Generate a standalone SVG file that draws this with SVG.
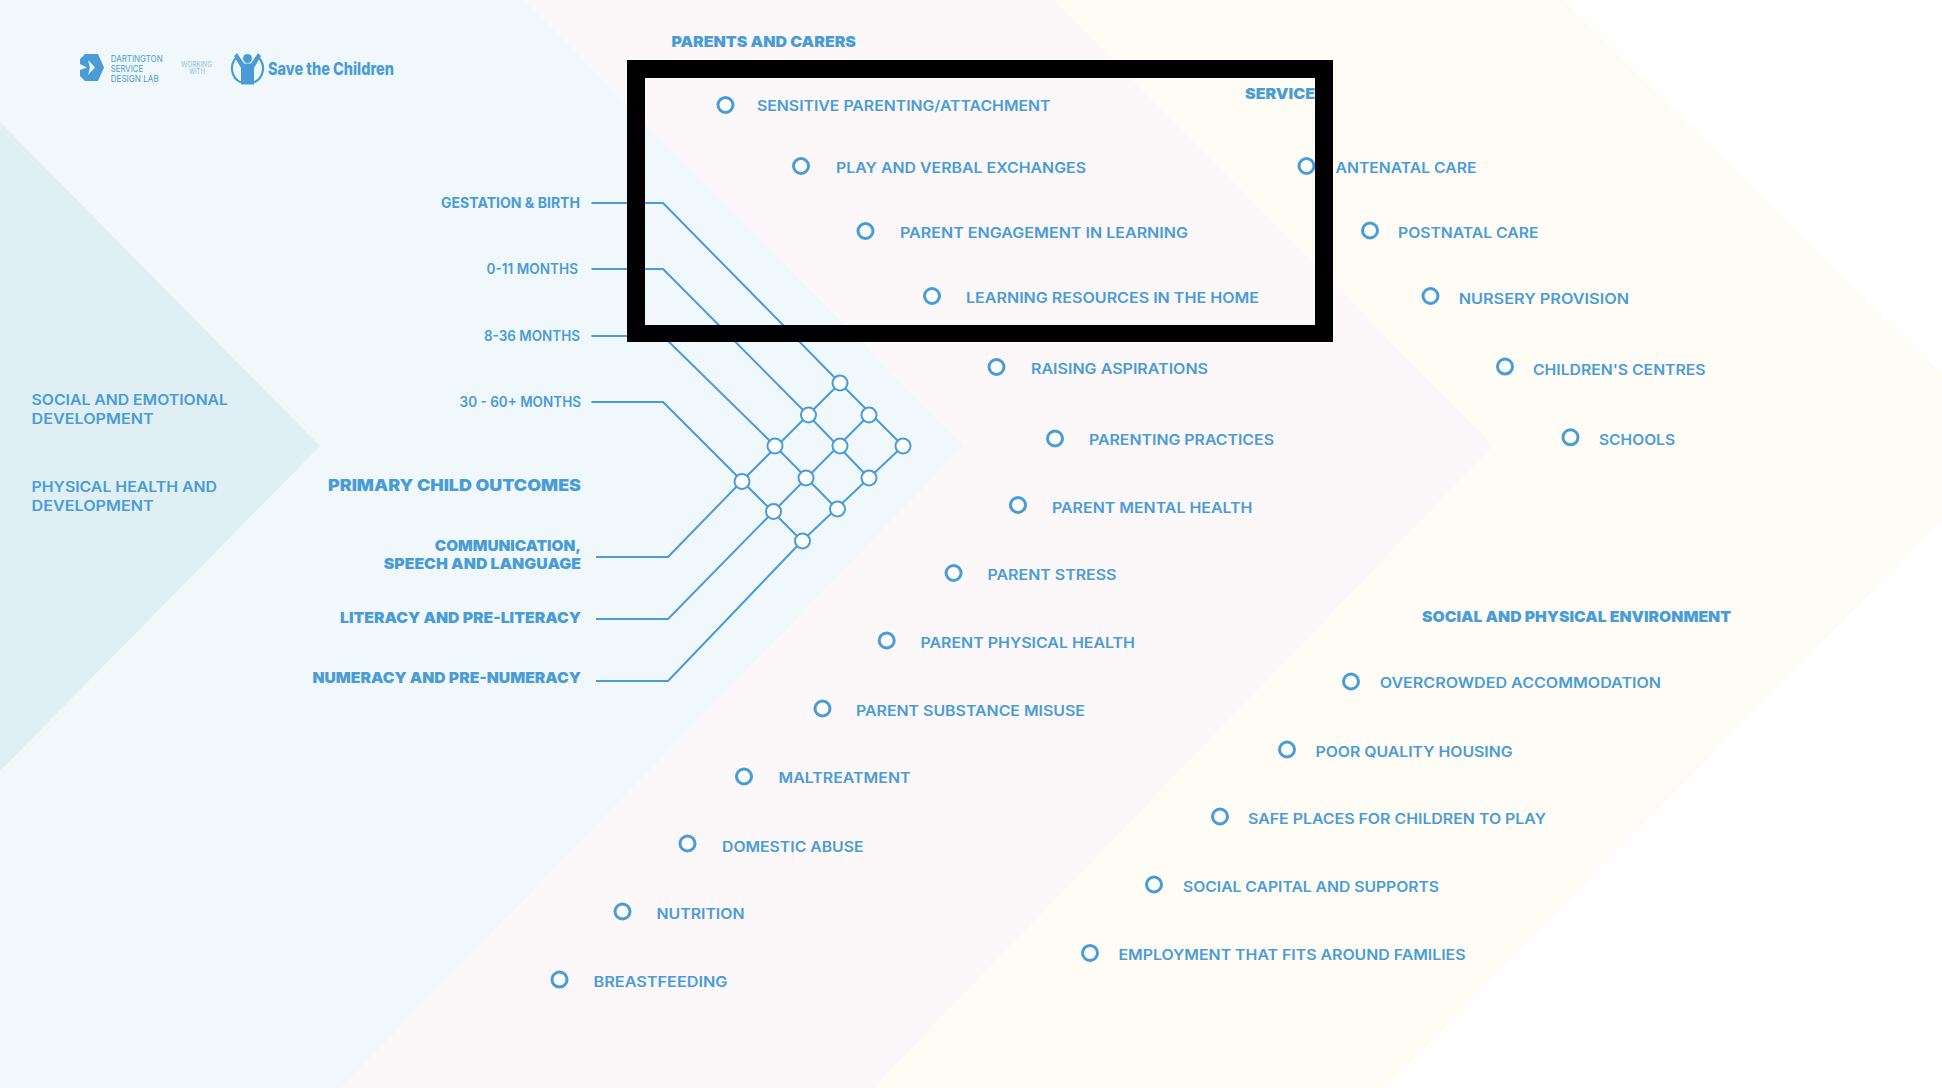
<svg xmlns="http://www.w3.org/2000/svg" width="1942" height="1088" viewBox="0 0 1942 1088">
<style>
text{font-family:Inter,"Liberation Sans",sans-serif;fill:#4a9cd6;font-size:14px;font-weight:600;dominant-baseline:central}
.h{font-weight:900;font-size:15px}
.b{font-weight:700}
.s{font-weight:400;font-size:9.5px}
.w{font-weight:400;font-size:7.5px;fill:#8cc0e4}
.sc{font-weight:800;font-size:17px}
.dot{fill:#fff;stroke:#4a9cd6;stroke-width:3}
.n{fill:#fff;stroke:#4a9cd6;stroke-width:2}
.c{fill:none;stroke:#4a9cd6;stroke-width:2;stroke-linejoin:round}
</style>
<rect width="1942" height="1088" fill="#fff"/>
<g id="background">
<polygon points="0,0 1563,0 2015,446 1385,1088 0,1088" fill="#fffcf6"/>
<polygon points="0,0 1054,0 1493,446 873,1088 0,1088" fill="#fcf7f8"/>
<polygon points="0,0 524,0 964,446 341,1088 0,1088" fill="#f0f8fb"/>
<polygon points="0,122 320,446 0,771" fill="#e0eff4"/>
</g>
<g id="logos">
<path d="M85,54H98L104,67.500L98,81H85L80,76V70L87,67.500L80,64V59Z" fill="#4a9cd6"/>
<path d="M88,60L95,67.500L88,75L90,67.500Z" fill="#f0f8fb"/>
<text class="s" x="110.700" y="58.700" textLength="52" lengthAdjust="spacingAndGlyphs">DARTINGTON</text>
<text class="s" x="110.700" y="68.300" textLength="32.500" lengthAdjust="spacingAndGlyphs">SERVICE</text>
<text class="s" x="110.700" y="78" textLength="48" lengthAdjust="spacingAndGlyphs">DESIGN LAB</text>
<text class="w" x="181" y="64" textLength="31" lengthAdjust="spacingAndGlyphs">WORKING</text>
<text class="w" x="189" y="71.300" textLength="16" lengthAdjust="spacingAndGlyphs">WITH</text>
<path d="M237,57A15.500,15.500 0 0 0 241,82.500M258,57A15.500,15.500 0 0 1 254,82.500" fill="none" stroke="#4a9cd6" stroke-width="2.200"/>
<circle cx="247.500" cy="58.500" r="4.500" fill="#4a9cd6"/>
<path d="M234,56L237,53L244,63.500H251L258,53L261,56L254,68V84.500H241V68Z" fill="#4a9cd6"/>
<text class="sc" x="268" y="69.300" textLength="126" lengthAdjust="spacingAndGlyphs">Save the Children</text>
</g>
<g id="connectors">
<polyline class="c" points="591.500,203 663,203 840,383 903,446"/>
<polyline class="c" points="591.500,269 663,269 808,415 869,478"/>
<polyline class="c" points="591.500,336 663,336 775,446 837,509"/>
<polyline class="c" points="591.500,402 663,402 742,481 802,541"/>
<polyline class="c" points="596,557 668,557 742,481 840,383"/>
<polyline class="c" points="596,619 668,619 773,512 869,415"/>
<polyline class="c" points="596,681 668,681 802,541 903,446"/>
</g>
<g id="matrix">
<circle class="n" cx="840" cy="383" r="7.500"/><circle class="n" cx="808.500" cy="415" r="7.500"/><circle class="n" cx="869" cy="415" r="7.500"/>
<circle class="n" cx="775" cy="446" r="7.500"/><circle class="n" cx="840" cy="446" r="7.500"/><circle class="n" cx="903" cy="446" r="7.500"/>
<circle class="n" cx="742" cy="481.500" r="7.500"/><circle class="n" cx="806" cy="478" r="7.500"/><circle class="n" cx="869" cy="478" r="7.500"/>
<circle class="n" cx="773.500" cy="511.500" r="7.500"/><circle class="n" cx="837.500" cy="509" r="7.500"/><circle class="n" cx="802.500" cy="541" r="7.500"/>
</g>
<g id="left-labels">
<text x="31.600" y="399.500" textLength="196.400" lengthAdjust="spacingAndGlyphs">SOCIAL AND EMOTIONAL</text>
<text x="31.600" y="418" textLength="122" lengthAdjust="spacingAndGlyphs">DEVELOPMENT</text>
<text x="31.600" y="486" textLength="185.400" lengthAdjust="spacingAndGlyphs">PHYSICAL HEALTH AND</text>
<text x="31.600" y="505.200" textLength="122" lengthAdjust="spacingAndGlyphs">DEVELOPMENT</text>
</g>
<g id="age-labels">
<text class="b" x="441" y="202" textLength="139" lengthAdjust="spacingAndGlyphs">GESTATION &amp; BIRTH</text>
<text x="486.600" y="268.500" textLength="91.400" lengthAdjust="spacingAndGlyphs">0-11 MONTHS</text>
<text x="484" y="335.500" textLength="96" lengthAdjust="spacingAndGlyphs">8-36 MONTHS</text>
<text x="459.600" y="401.500" textLength="121.400" lengthAdjust="spacingAndGlyphs">30 - 60+ MONTHS</text>
</g>
<g id="outcome-labels">
<text class="h" style="font-size:16px" x="328" y="484.500" textLength="253" lengthAdjust="spacingAndGlyphs">PRIMARY CHILD OUTCOMES</text>
<text class="h" x="434.700" y="545.700" textLength="146.300" lengthAdjust="spacingAndGlyphs">COMMUNICATION,</text>
<text class="h" x="383.700" y="563.700" textLength="197.300" lengthAdjust="spacingAndGlyphs">SPEECH AND LANGUAGE</text>
<text class="h" x="340" y="617.700" textLength="241" lengthAdjust="spacingAndGlyphs">LITERACY AND PRE-LITERACY</text>
<text class="h" x="312.400" y="677.700" textLength="268.600" lengthAdjust="spacingAndGlyphs">NUMERACY AND PRE-NUMERACY</text>
</g>
<g id="parents-and-carers">
<text class="h" x="671.400" y="41" textLength="184.600" lengthAdjust="spacingAndGlyphs">PARENTS AND CARERS</text>
<g id="p1"><circle class="dot" cx="725.500" cy="105" r="7.500"/><text x="757" y="105.300" textLength="293.500" lengthAdjust="spacingAndGlyphs">SENSITIVE PARENTING/ATTACHMENT</text></g>
<g id="p2"><circle class="dot" cx="801" cy="166" r="7.500"/><text x="836" y="167.300" textLength="250" lengthAdjust="spacingAndGlyphs">PLAY AND VERBAL EXCHANGES</text></g>
<g id="p3"><circle class="dot" cx="865.500" cy="231" r="7.500"/><text x="900" y="232" textLength="288" lengthAdjust="spacingAndGlyphs">PARENT ENGAGEMENT IN LEARNING</text></g>
<g id="p4"><circle class="dot" cx="932" cy="296" r="7.500"/><text x="966" y="297" textLength="293" lengthAdjust="spacingAndGlyphs">LEARNING RESOURCES IN THE HOME</text></g>
<g id="p5"><circle class="dot" cx="996.500" cy="367" r="7.500"/><text x="1031" y="368.500" textLength="177" lengthAdjust="spacingAndGlyphs">RAISING ASPIRATIONS</text></g>
<g id="p6"><circle class="dot" cx="1055" cy="438.500" r="7.500"/><text x="1089" y="439.800" textLength="185" lengthAdjust="spacingAndGlyphs">PARENTING PRACTICES</text></g>
<g id="p7"><circle class="dot" cx="1018" cy="505" r="7.500"/><text x="1052" y="507" textLength="200.500" lengthAdjust="spacingAndGlyphs">PARENT MENTAL HEALTH</text></g>
<g id="p8"><circle class="dot" cx="953.600" cy="573" r="7.500"/><text x="987.500" y="574.600" textLength="129" lengthAdjust="spacingAndGlyphs">PARENT STRESS</text></g>
<g id="p9"><circle class="dot" cx="886.700" cy="640.500" r="7.500"/><text x="920.500" y="642" textLength="214.500" lengthAdjust="spacingAndGlyphs">PARENT PHYSICAL HEALTH</text></g>
<g id="p10"><circle class="dot" cx="822.500" cy="708.500" r="7.500"/><text x="856" y="710" textLength="229" lengthAdjust="spacingAndGlyphs">PARENT SUBSTANCE MISUSE</text></g>
<g id="p11"><circle class="dot" cx="744" cy="776.500" r="7.500"/><text x="778.500" y="777.700" textLength="132" lengthAdjust="spacingAndGlyphs">MALTREATMENT</text></g>
<g id="p12"><circle class="dot" cx="687.500" cy="843.500" r="7.500"/><text x="722" y="846" textLength="141.500" lengthAdjust="spacingAndGlyphs">DOMESTIC ABUSE</text></g>
<g id="p13"><circle class="dot" cx="622.500" cy="911.500" r="7.500"/><text x="656.500" y="913" textLength="88" lengthAdjust="spacingAndGlyphs">NUTRITION</text></g>
<g id="p14"><circle class="dot" cx="559.500" cy="979.600" r="7.500"/><text x="593.500" y="981" textLength="134" lengthAdjust="spacingAndGlyphs">BREASTFEEDING</text></g>
</g>
<g id="service">
<text class="h" x="1245" y="93.500" textLength="70" lengthAdjust="spacingAndGlyphs">SERVICE</text>
<g id="s1"><circle class="dot" cx="1306.500" cy="166" r="7.500"/><text x="1335.500" y="167.800" textLength="141" lengthAdjust="spacingAndGlyphs">ANTENATAL CARE</text></g>
<g id="s2"><circle class="dot" cx="1370" cy="230.500" r="7.500"/><text x="1398" y="232.300" textLength="140.500" lengthAdjust="spacingAndGlyphs">POSTNATAL CARE</text></g>
<g id="s3"><circle class="dot" cx="1430.500" cy="296" r="7.500"/><text x="1458.700" y="298" textLength="170.300" lengthAdjust="spacingAndGlyphs">NURSERY PROVISION</text></g>
<g id="s4"><circle class="dot" cx="1505" cy="366.600" r="7.500"/><text x="1533" y="369.800" textLength="172.500" lengthAdjust="spacingAndGlyphs">CHILDREN'S CENTRES</text></g>
<g id="s5"><circle class="dot" cx="1570.500" cy="437.300" r="7.500"/><text x="1599" y="439" textLength="76" lengthAdjust="spacingAndGlyphs">SCHOOLS</text></g>
</g>
<g id="social-and-physical-environment">
<text class="h" x="1422" y="616.300" textLength="309" lengthAdjust="spacingAndGlyphs">SOCIAL AND PHYSICAL ENVIRONMENT</text>
<g id="e1"><circle class="dot" cx="1351" cy="681.500" r="7.500"/><text x="1379.700" y="682.800" textLength="281.300" lengthAdjust="spacingAndGlyphs">OVERCROWDED ACCOMMODATION</text></g>
<g id="e2"><circle class="dot" cx="1287" cy="749.500" r="7.500"/><text x="1315.500" y="751.200" textLength="197" lengthAdjust="spacingAndGlyphs">POOR QUALITY HOUSING</text></g>
<g id="e3"><circle class="dot" cx="1220" cy="816.500" r="7.500"/><text x="1248" y="818.300" textLength="298" lengthAdjust="spacingAndGlyphs">SAFE PLACES FOR CHILDREN TO PLAY</text></g>
<g id="e4"><circle class="dot" cx="1154" cy="884.500" r="7.500"/><text x="1183" y="886.800" textLength="256" lengthAdjust="spacingAndGlyphs">SOCIAL CAPITAL AND SUPPORTS</text></g>
<g id="e5"><circle class="dot" cx="1090" cy="952.900" r="7.500"/><text x="1118.500" y="954.400" textLength="347" lengthAdjust="spacingAndGlyphs">EMPLOYMENT THAT FITS AROUND FAMILIES</text></g>
</g>
<path id="frame" fill-rule="evenodd" fill="#000" d="M627,60H1333V342H627ZM645,78V325H1315V78Z"/>
</svg>
